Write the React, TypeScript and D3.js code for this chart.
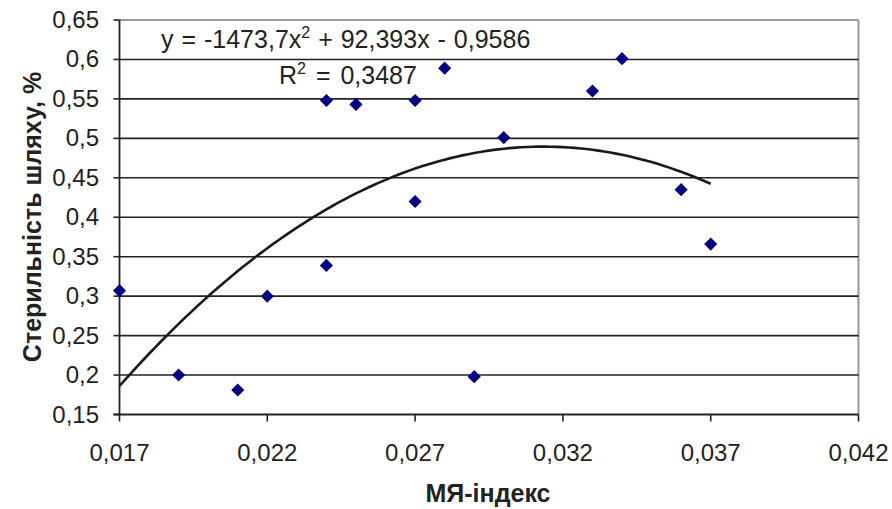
import React from "react";
import * as d3 from "d3";

// МЯ-індекс vs стерильність шляху
const mjIndex = [0.017, 0.019, 0.021, 0.022, 0.024, 0.024, 0.025, 0.027, 0.027, 0.028, 0.029, 0.03, 0.033, 0.034, 0.036, 0.037];
const sterility = [0.307, 0.2, 0.181, 0.3, 0.339, 0.548, 0.543, 0.548, 0.42, 0.589, 0.198, 0.501, 0.56, 0.601, 0.435, 0.366];

const xTicks = [0.017, 0.022, 0.027, 0.032, 0.037, 0.042];
const xTickLabels = ["0,017", "0,022", "0,027", "0,032", "0,037", "0,042"];
const yTicks = [0.15, 0.2, 0.25, 0.3, 0.35, 0.4, 0.45, 0.5, 0.55, 0.6, 0.65];
const yTickLabels = ["0,15", "0,2", "0,25", "0,3", "0,35", "0,4", "0,45", "0,5", "0,55", "0,6", "0,65"];

// polynomial trendline coefficients as printed on the chart
const trendCoef = [-1473.7, 92.393, -0.9586];
const trendRange = [0.017, 0.037];

const W = 892, H = 509;
const font = "Liberation Sans, Arial, sans-serif";

export default function App() {
  const xScale = d3.scaleLinear().domain([0.017, 0.042]).range([119.5, 858.5]);
  const yScale = d3.scaleLinear().domain([0.15, 0.65]).range([414.5, 20]);

  const trendX = d3.range(trendRange[0], trendRange[1] + 1e-9, 0.0002);
  const trendLine = d3.line<number>()
    .x(d => xScale(d))
    .y(d => yScale(trendCoef[0] * d * d + trendCoef[1] * d + trendCoef[2]));

  const diamond = d3.symbol().type(d3.symbolDiamond2).size(110)();

  return (
    <svg width={W} height={H} style={{ position: "absolute", left: 0, top: 0, background: "#fff" }} fontFamily={font}>
      {/* plot frame */}
      <line x1={xScale(0.017)} x2={xScale(0.042)} y1={yScale(0.65)} y2={yScale(0.65)} stroke="#9a9a9a" strokeWidth={2} />
      <line x1={xScale(0.042)} x2={xScale(0.042)} y1={yScale(0.65)} y2={yScale(0.15)} stroke="#9a9a9a" strokeWidth={2} />

      {/* gridlines */}
      {yTicks.filter(t => t > 0.15 && t < 0.65).map(t => (
        <line key={t} x1={xScale(0.017)} x2={xScale(0.042)} y1={yScale(t)} y2={yScale(t)} stroke="#222" strokeWidth={1.6} />
      ))}

      {/* axes */}
      <line x1={xScale(0.017)} x2={xScale(0.017)} y1={yScale(0.65)} y2={yScale(0.15)} stroke="#222" strokeWidth={1.8} />
      <line x1={xScale(0.017) - 6} x2={xScale(0.042)} y1={yScale(0.15)} y2={yScale(0.15)} stroke="#222" strokeWidth={1.8} />
      {yTicks.map((t, i) => (
        <g key={t}>
          <line x1={xScale(0.017) - 6} x2={xScale(0.017)} y1={yScale(t)} y2={yScale(t)} stroke="#222" strokeWidth={1.6} />
          <text x={99} y={yScale(t) + 8} textAnchor="end" fontSize={24} fill="#222">{yTickLabels[i]}</text>
        </g>
      ))}
      {xTicks.map((t, i) => (
        <g key={t}>
          <line x1={xScale(t)} x2={xScale(t)} y1={yScale(0.15)} y2={yScale(0.15) + 7} stroke="#222" strokeWidth={1.6} />
          <text x={xScale(t)} y={461} textAnchor="middle" fontSize={24} fill="#222">{xTickLabels[i]}</text>
        </g>
      ))}

      {/* points */}
      {mjIndex.map((x, i) => (
        <path key={i} d={diamond ?? ""} transform={`translate(${xScale(x)},${yScale(sterility[i])})`} fill="#000080" />
      ))}

      {/* trendline */}
      <path d={trendLine(trendX) ?? ""} fill="none" stroke="#1a1a1a" strokeWidth={2.6} />

      {/* equation labels */}
      <text x={161} y={48} fontSize={25} fill="#222" wordSpacing={1}>
        y = -1473,7x<tspan dy={-10} fontSize={16}>2</tspan><tspan dy={10}>{" + 92,393x - 0,9586"}</tspan>
      </text>
      <text x={279} y={84} fontSize={25} fill="#222" wordSpacing={3}>
        R<tspan dy={-10} fontSize={16}>2</tspan><tspan dy={10}>{" = 0,3487"}</tspan>
      </text>

      {/* axis titles */}
      <text x={488} y={502} textAnchor="middle" fontSize={25} fontWeight="bold" fill="#222">МЯ-індекс</text>
      <text transform="translate(41,217) rotate(-90)" textAnchor="middle" fontSize={25} fontWeight="bold" fill="#222">Стерильність шляху, %</text>
    </svg>
  );
}
